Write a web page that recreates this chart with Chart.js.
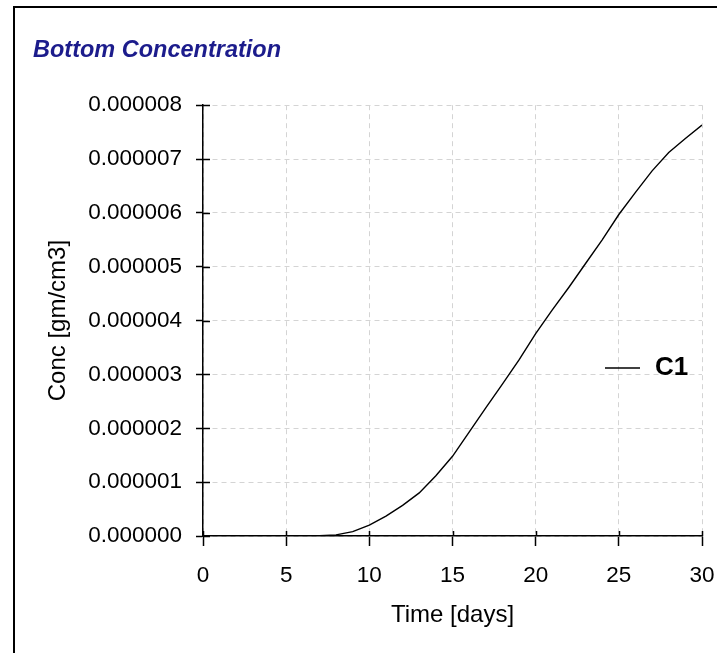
<!DOCTYPE html>
<html>
<head>
<meta charset="utf-8">
<script src="https://cdn.jsdelivr.net/npm/chart.js@4/dist/chart.umd.min.js"></script>
<style>
  html, body { margin: 0; padding: 0; background: #fff; }
  #wrap { position: relative; width: 717px; height: 653px; }
  #frame { position: absolute; left: 13px; top: 6px; width: 720px; height: 660px;
           border-left: 2px solid #000; border-top: 2px solid #000; pointer-events: none; }
</style>
</head>
<body>
<div id="wrap">
  <canvas id="chart" width="717" height="653"></canvas>
  <div id="frame"></div>
</div>
<script>
// data
const times = [6, 7, 8, 9, 10, 11, 12, 13, 14, 15, 16, 17, 18, 19, 20, 21, 22, 23, 24, 25, 26, 27, 28, 29, 30];
const c1 = [0, 0.005e-6, 0.02e-6, 0.08e-6, 0.2e-6, 0.37e-6, 0.57e-6, 0.8e-6, 1.12e-6, 1.48e-6,
            1.93e-6, 2.38e-6, 2.82e-6, 3.27e-6, 3.76e-6, 4.2e-6, 4.62e-6, 5.06e-6, 5.5e-6, 5.97e-6,
            6.38e-6, 6.78e-6, 7.12e-6, 7.38e-6, 7.63e-6];
const xTicks = [0, 5, 10, 15, 20, 25, 30];
const yTicks = [0, 1e-6, 2e-6, 3e-6, 4e-6, 5e-6, 6e-6, 7e-6, 8e-6];

const FONT = "'Liberation Sans', Arial, sans-serif";

// ticks in the original cross the axis, so draw the inner half too
const innerTicks = {
  id: 'innerTicks',
  afterDraw(chart) {
    const {ctx, chartArea, scales} = chart;
    ctx.save();
    ctx.strokeStyle = '#000';
    ctx.lineWidth = 1.5;
    ctx.beginPath();
    xTicks.forEach(v => {
      const x = Math.round(scales.x.getPixelForValue(v)) + 0.5;
      ctx.moveTo(x, chartArea.bottom);
      ctx.lineTo(x, chartArea.bottom - 5);
    });
    yTicks.forEach(v => {
      const y = Math.round(scales.y.getPixelForValue(v)) + 0.5;
      ctx.moveTo(chartArea.left, y);
      ctx.lineTo(chartArea.left + 7, y);
    });
    ctx.stroke();
    ctx.restore();
  }
};

// legend sits inside the plot on the right
const insideLegend = {
  id: 'insideLegend',
  afterDraw(chart) {
    const {ctx, chartArea} = chart;
    const ds = chart.data.datasets[0];
    const y = 368;
    ctx.save();
    ctx.strokeStyle = ds.borderColor;
    ctx.lineWidth = 1.3;
    ctx.beginPath();
    ctx.moveTo(chartArea.right - 97, y);
    ctx.lineTo(chartArea.right - 62, y);
    ctx.stroke();
    ctx.fillStyle = '#000';
    ctx.font = "bold 26px " + FONT;
    ctx.textBaseline = 'middle';
    ctx.fillText(ds.label, chartArea.right - 47, y);
    ctx.restore();
  }
};

new Chart(document.getElementById('chart'), {
  type: 'line',
  data: {
    datasets: [{
      label: 'C1',
      data: times.map((t, i) => ({x: t, y: c1[i]})),
      borderColor: '#000',
      borderWidth: 1.4,
      pointRadius: 0,
      tension: 0,
      fill: false
    }]
  },
  options: {
    responsive: false,
    animation: false,
    layout: { padding: { left: 33, right: 15, top: 0, bottom: 0 } },
    plugins: {
      legend: { display: false },
      tooltip: { enabled: false },
      title: {
        display: true,
        text: 'Bottom Concentration',
        align: 'start',
        color: '#1c1c8c',
        font: { family: FONT, size: 23.5, style: 'italic', weight: 'bold' },
        padding: { top: 36, bottom: 41 }
      }
    },
    scales: {
      x: {
        type: 'linear',
        min: 0, max: 30,
        afterBuildTicks: s => { s.ticks = xTicks.map(v => ({value: v})); },
        afterFit: s => { s.height = 117; s.paddingLeft = 0; s.paddingRight = 0; },
        ticks: { color: '#000', font: { family: FONT, size: 22.5 }, padding: 16, maxRotation: 0 },
        grid: { color: '#d4d4d4', lineWidth: 1, tickColor: '#000', tickLength: 10, tickWidth: 1.5 },
        border: { color: '#000', width: 1.5, dash: [5, 4] },
        title: { display: true, text: 'Time [days]', color: '#000',
                 font: { family: FONT, size: 24 }, padding: { top: 4, bottom: 23 } }
      },
      y: {
        min: 0, max: 8e-6,
        afterBuildTicks: s => { s.ticks = yTicks.map(v => ({value: v})); },
        afterFit: s => { s.width = 170; },
        ticks: { color: '#000', font: { family: FONT, size: 22.5 }, padding: 14,
                 callback: v => v.toFixed(6) },
        grid: { color: '#d4d4d4', lineWidth: 1, tickColor: '#000', tickLength: 7, tickWidth: 1.5 },
        border: { color: '#000', width: 1.5, dash: [5, 4] },
        title: { display: true, text: 'Conc [gm/cm3]', color: '#000',
                 font: { family: FONT, size: 24 }, padding: { top: 11, bottom: 4 } }
      }
    }
  },
  plugins: [innerTicks, insideLegend]
});
</script>
</body>
</html>
